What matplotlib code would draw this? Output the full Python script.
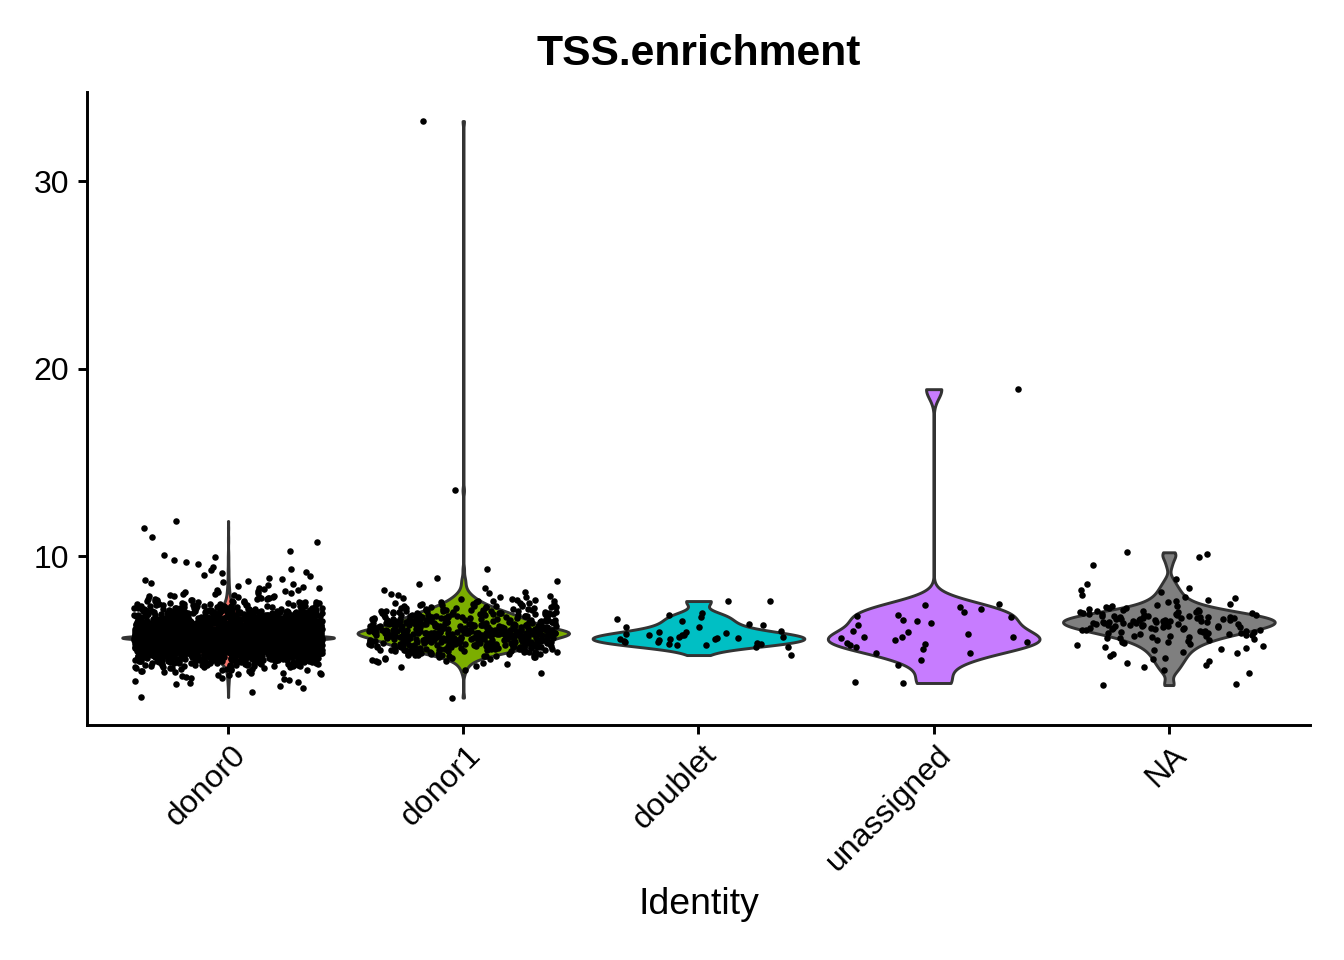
import numpy as np
import matplotlib
matplotlib.use("Agg")
import matplotlib.pyplot as plt
from matplotlib.transforms import ScaledTranslation

# --- data ----------------------------------------------------------------
groups = ["donor0", "donor1", "doublet", "unassigned", "NA"]
colors = ["#F8766D", "#7CAE00", "#00BFC4", "#C77CFF", "#7F7F7F"]

# donor0: binned counts (bin centre, 0.25 wide), a pile-up value and outliers
donor0_bins = [2.75, 3.0, 3.25, 3.5, 3.75, 4.0, 4.25, 4.5, 4.75, 5.0, 5.25, 5.5,
               5.75, 6.0, 6.25, 6.5, 6.75, 7.0, 7.25, 7.5, 7.75, 8.0, 8.25,
               8.5, 8.75, 9.0, 9.25, 9.5, 9.75, 10.0, 10.25, 10.75, 11.0, 11.5]
donor0_counts = [1, 2, 4, 6, 10, 18, 40, 85, 180, 290, 360, 380,
                 370, 310, 220, 160, 110, 75, 45, 26, 15, 10, 7,
                 5, 4, 3, 3, 2, 2, 2, 1, 1, 1, 1]
donor0_peak = 5.65
donor0_peak_n = 380
donor0_extra = [2.48, 11.87]

# donor1
donor1_bins = [3.75, 4.0, 4.25, 4.5, 4.75, 5.0, 5.25, 5.5, 5.75, 6.0, 6.25, 6.5,
               6.75, 7.0, 7.25, 7.5, 7.75, 8.0, 8.25, 8.5, 8.75]
donor1_counts = [1, 2, 4, 8, 22, 38, 48, 55, 62, 62, 52, 45,
                 38, 30, 20, 13, 8, 4, 2, 1, 2]
donor1_peak = 5.9
donor1_peak_n = 20
donor1_extra = [2.45, 9.3, 13.5, 33.2]

# doublet: individual cells
doublet_vals = [5.79, 5.25, 5.52, 5.63, 6.75, 6.55, 5.63, 5.36, 5.89, 5.31,
                6.0, 5.47, 5.15, 5.79, 5.68, 6.32, 7.6, 5.15, 7.6, 6.21,
                6.21, 6.37, 5.57, 5.25, 4.72, 5.79, 5.84, 5.95, 6.85, 5.41,
                5.95, 5.31, 6.96, 5.57, 5.41, 6.63, 5.7, 5.6]

# unassigned: individual cells
unassigned_vals = [18.9, 3.23, 7.28, 7.01, 6.8, 6.0, 5.04, 5.68, 5.52, 4.83,
                   4.19, 7.39, 6.85, 6.59, 6.43, 5.84, 5.36, 5.41, 4.45, 5.68,
                   5.63, 5.25, 6.32, 6.75, 6.53, 7.44, 4.83, 5.15, 5.95, 5.68,
                   5.31, 7.17, 3.28]

# NA
na_bins = [3.75, 4.0, 4.25, 4.5, 4.75, 5.0, 5.25, 5.5, 5.75, 6.0, 6.25, 6.5,
           6.75, 7.0, 7.25, 7.5, 7.75, 8.0, 8.25, 8.5, 8.75]
na_counts = [1, 2, 2, 3, 3, 4, 5, 7, 10, 14, 18, 20,
             18, 12, 7, 4, 3, 2, 2, 1, 1]
na_extra = [3.12, 3.2, 9.52, 9.95, 10.1, 10.2]


def expand_bins(bins, counts, width=0.25):
    """spread each bin's cells evenly over the bin"""
    out = []
    for b, c in zip(bins, counts):
        out.extend(b - width / 2 + (np.arange(c) + 0.5) / c * width)
    return out


values = [
    np.array(expand_bins(donor0_bins, donor0_counts) + [donor0_peak] * donor0_peak_n + donor0_extra),
    np.array(expand_bins(donor1_bins, donor1_counts) + [donor1_peak] * donor1_peak_n + donor1_extra),
    np.array(doublet_vals),
    np.array(unassigned_vals),
    np.array(expand_bins(na_bins, na_counts) + na_extra),
]


def bw_nrd0(x):
    sd = np.std(x, ddof=1)
    iqr = np.subtract(*np.percentile(x, [75, 25]))
    lo = min(sd, iqr / 1.34)
    if lo == 0:
        lo = sd
    return 0.9 * lo * len(x) ** -0.2


def violin_density(x, n=512):
    bw = bw_nrd0(x)
    grid = np.linspace(x.min(), x.max(), n)
    dens = np.exp(-0.5 * ((grid[:, None] - x[None, :]) / bw) ** 2).sum(axis=1)
    return grid, dens / dens.max()


plt.rcParams['font.family'] = ['Liberation Sans', 'DejaVu Sans']

fig = plt.figure(figsize=(7, 5), dpi=192)
ax = fig.add_axes([0.0647, 0.2448, 0.91, 0.6594])

rng = np.random.default_rng(7)
for i, (vals, col) in enumerate(zip(values, colors)):
    pos = i + 1
    grid, dens = violin_density(vals)
    half = dens * 0.45
    ax.fill_betweenx(grid, pos - half, pos + half, facecolor=col,
                     edgecolor="#333333", linewidth=1.1, zorder=2)

for i, vals in enumerate(values):
    pos = i + 1
    xs = pos + rng.uniform(-0.4, 0.4, len(vals))
    ax.scatter(xs, vals, s=6, c="black", linewidths=0, zorder=3)

ax.set_xlim(0.4, 5.6)
ax.set_ylim(0.99, 34.75)
ax.set_yticks([10, 20, 30])
ax.set_xticks(range(1, len(groups) + 1))
ax.set_xticklabels(groups, rotation=45, ha="right", va="top",
                   rotation_mode="anchor", fontsize=12)
ax.tick_params(axis="y", labelsize=12)
ax.tick_params(length=3.2, width=1.1, color="black")
for lbl in ax.get_xticklabels():
    lbl.set_transform(lbl.get_transform() + ScaledTranslation(3 / 192, 3 / 192, fig.dpi_scale_trans))

for side in ["top", "right"]:
    ax.spines[side].set_visible(False)
for side in ["left", "bottom"]:
    ax.spines[side].set_linewidth(1.1)

ax.set_xlabel("Identity", fontsize=14, labelpad=4)
ax.set_title("TSS.enrichment", fontsize=16, fontweight="bold", pad=10)

fig.savefig("out.png", dpi=192)
